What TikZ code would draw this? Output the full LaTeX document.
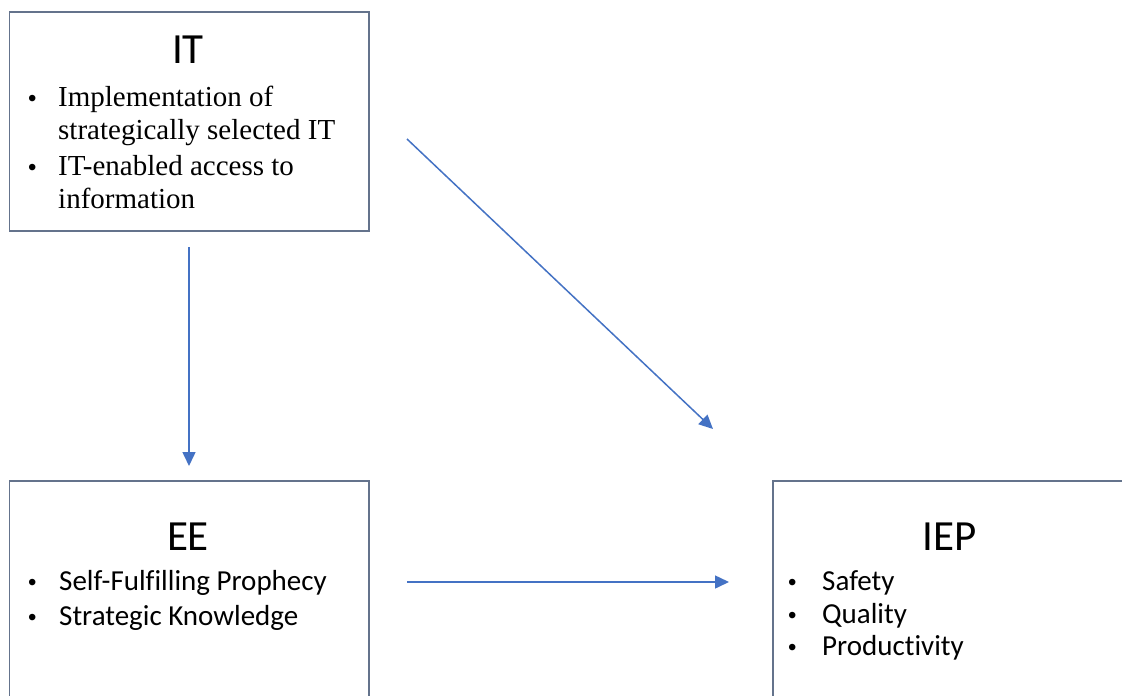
\documentclass[tikz,border=0pt]{standalone}
\usepackage{fontspec}
\setmainfont[Ligatures=NoCommon]{Carlito}
\newfontfamily\serifb{Liberation Serif}
\newfontfamily\bulletfont{Liberation Sans}
\usetikzlibrary{arrows.meta}
\definecolor{boxline}{RGB}{100,115,140}
\definecolor{arrowblue}{RGB}{68,114,196}
\tikzset{
  boxnode/.style={draw=boxline, line width=1.6pt, rectangle, inner sep=0pt, anchor=north west},
  titletext/.style={font=\fontsize{43}{43}\selectfont, anchor=base, inner sep=0pt},
  serifitem/.style={font=\serifb\fontsize{29}{29}\selectfont, anchor=base west, inner sep=0pt},
  sansitem/.style={font=\fontsize{29}{29}\selectfont, anchor=base west, inner sep=0pt},
  bulletitem/.style={font=\bulletfont\fontsize{24}{24}\selectfont, anchor=base west, inner sep=0pt},
  conn/.style={draw=arrowblue, line width=1.5pt, -{Triangle[length=14pt,width=13pt]}}
}
\begin{document}
\begin{tikzpicture}[x=1pt,y=-1pt]
\useasboundingbox (0,0) rectangle (1122,696);
\clip (0,0) rectangle (1122,696);
\fill[white] (0,0) rectangle (1122,696);
% boxes
\node[boxnode, minimum width=359.5pt, minimum height=219pt] (itbox) at (8.5,11) {};
\node[boxnode, minimum width=359.5pt, minimum height=260pt] (eebox) at (8.5,480) {};
\node[boxnode, minimum width=400pt, minimum height=260pt] (iepbox) at (772,480) {};
% IT box text
\node[titletext] (ittitle) at (188,63) {IT};
\node[bulletitem] (itb1) at (28,106) {•};
\node[serifitem] (itl1) at (58,106) {Implementation of};
\node[serifitem] (itl2) at (58,139) {strategically selected IT};
\node[bulletitem] (itb2) at (28,175) {•};
\node[serifitem] (itl3) at (58,175) {IT-enabled access to};
\node[serifitem] (itl4) at (58,208) {information};
% EE box text
\node[titletext] (eetitle) at (188,550) {EE};
\node[bulletitem] (eeb1) at (28,590) {•};
\node[sansitem] (eel1) at (59,590) {Self-Fulfilling Prophecy};
\node[bulletitem] (eeb2) at (28,625) {•};
\node[sansitem] (eel2) at (59,625) {Strategic Knowledge};
% IEP box text
\node[titletext] (ieptitle) at (950,550) {IEP};
\node[bulletitem] (iepb1) at (788,590) {•};
\node[sansitem] (iepl1) at (822,590) {Safety};
\node[bulletitem] (iepb2) at (788,623) {•};
\node[sansitem] (iepl2) at (822,623) {Quality};
\node[bulletitem] (iepb3) at (788,655) {•};
\node[sansitem] (iepl3) at (822,655) {Productivity};
% connectors
\coordinate (v1) at (189,247);
\coordinate (v2) at (189,466);
\coordinate (h1) at (407,582);
\coordinate (h2) at (729,582);
\coordinate (d1) at (407,139);
\coordinate (d2) at (713,429);
\draw[conn] (v1) -- (v2);
\draw[conn] (h1) -- (h2);
\draw[conn] (d1) -- (d2);
\end{tikzpicture}
\end{document}
